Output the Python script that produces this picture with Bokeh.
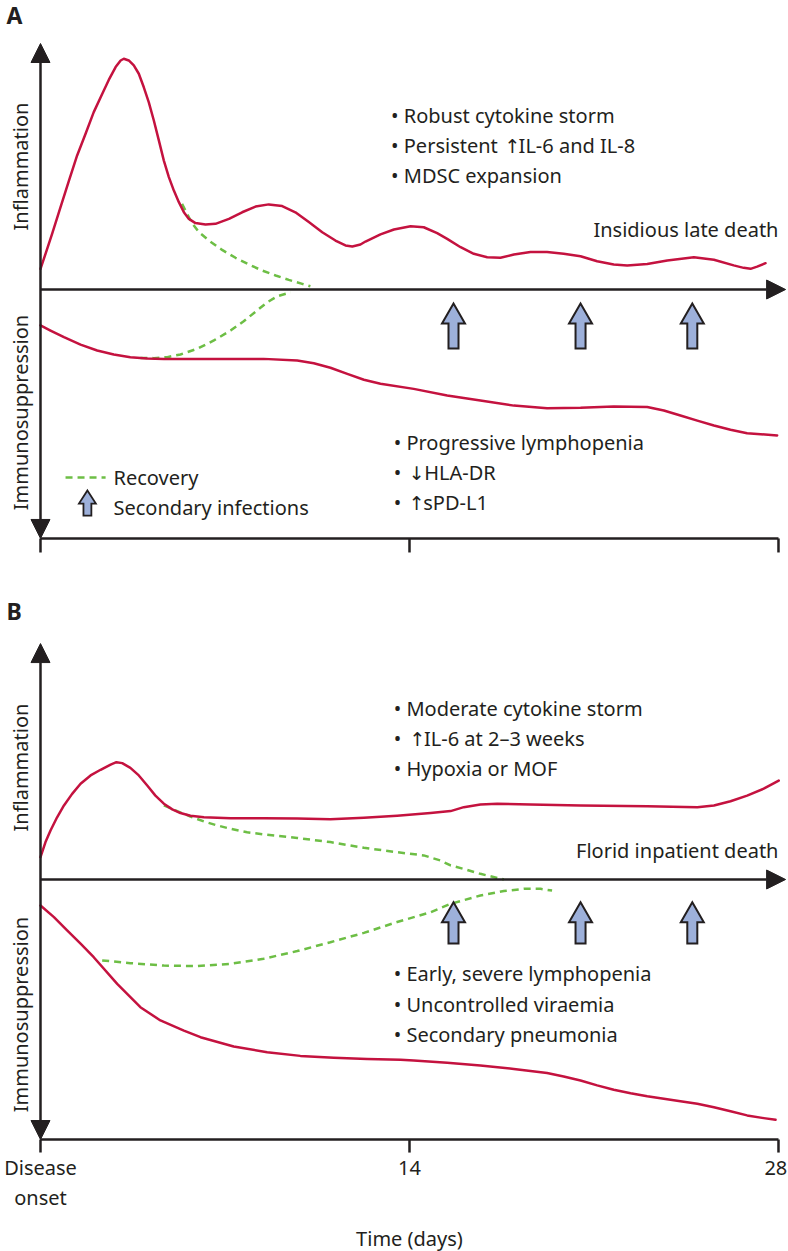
import math
from bokeh.plotting import figure
from bokeh.models import Range1d, Arrow, NormalHead
from bokeh.layouts import column
from bokeh.embed import file_html
from bokeh.resources import INLINE
from bokeh.core.properties import value

RED = "#C4123F"
GREEN = "#6DBE45"
INK = "#231F20"
BLUE = "#9DB0DA"
FONT = "Noto Sans"
ARROW_FONT = "DejaVu Sans"

# ---------------- data (days, relative level; 0 = time axis) ----------------
infection_days = [15.67, 20.49, 24.73]
tick_days = [0, 14, 28]
tick_label_x = [0, 14, 27.9]
tick_labels = ["Disease", "14", "28"]

# Panel A : fatal course with late death
inflA_day = [0, 0.19, 0.44, 0.76, 1.08, 1.39, 1.71, 2.02, 2.34, 2.59, 2.85, 3.04, 3.16, 3.35, 3.54,
             3.73, 3.92, 4.11, 4.30, 4.49, 4.68, 4.87, 5.06, 5.25, 5.44, 5.63, 5.88, 6.26, 6.64,
             7.15, 7.65, 8.16, 8.66, 9.17, 9.67, 10.18, 10.69, 11.19, 11.57, 11.83, 12.14, 12.33,
             12.90, 13.41, 14.04, 14.54, 15.05, 15.43, 15.94, 16.44, 16.95, 17.45, 17.96, 18.59,
             19.22, 19.85, 20.49, 21.12, 21.75, 22.26, 23.02, 23.78, 24.79, 25.55, 26.30, 26.68,
             26.94, 27.19, 27.51]
inflA_lvl = [0.84, 1.45, 2.26, 3.35, 4.43, 5.45, 6.33, 7.21, 7.95, 8.52, 9.04, 9.31, 9.38, 9.31, 9.11,
             8.77, 8.22, 7.61, 6.87, 6.06, 5.24, 4.57, 4.02, 3.55, 3.14, 2.87, 2.70, 2.64, 2.67,
             2.87, 3.14, 3.37, 3.46, 3.39, 3.14, 2.74, 2.33, 1.99, 1.79, 1.75, 1.83, 1.95,
             2.24, 2.44, 2.57, 2.53, 2.29, 2.06, 1.72, 1.45, 1.31, 1.29, 1.42, 1.52,
             1.52, 1.45, 1.35, 1.15, 1.02, 0.98, 1.04, 1.18, 1.31, 1.21, 0.98, 0.88,
             0.84, 0.93, 1.07]
recA_infl_day = [5.37, 5.56, 5.75, 6.01, 6.39, 6.89, 7.40, 7.90, 8.41, 8.92, 9.42, 9.93, 10.24]
recA_infl_lvl = [3.48, 3.08, 2.70, 2.33, 1.99, 1.61, 1.29, 1.02, 0.77, 0.57, 0.39, 0.23, 0.13]
immA_day = [0, 0.38, 0.89, 1.52, 2.15, 2.78, 3.41, 4.05, 4.68, 6.58, 8.47, 9.74, 10.37, 11.00, 11.64,
            12.27, 12.90, 14.16, 15.43, 16.69, 17.96, 19.22, 20.49, 21.75, 23.02, 23.65, 24.28,
            24.92, 25.55, 26.18, 26.81, 27.95]
immA_lvl = [-1.46, -1.67, -1.94, -2.24, -2.48, -2.64, -2.75, -2.80, -2.82, -2.82, -2.82, -2.89, -3.00,
            -3.18, -3.43, -3.67, -3.83, -4.04, -4.31, -4.51, -4.72, -4.83, -4.81, -4.76, -4.78,
            -4.92, -5.12, -5.33, -5.53, -5.70, -5.84, -5.93]
recA_imm_day = [3.79, 4.30, 4.81, 5.31, 5.95, 6.58, 7.21, 7.71, 8.22, 8.60, 8.98, 9.49]
recA_imm_lvl = [-2.78, -2.79, -2.75, -2.64, -2.41, -2.07, -1.67, -1.29, -0.85, -0.52, -0.28, -0.11]

# Panel B : fatal course with florid inpatient death
inflB_day = [0, 0.19, 0.38, 0.63, 0.89, 1.20, 1.52, 1.90, 2.28, 2.66, 2.88, 3.10, 3.41, 3.73, 4.05,
             4.36, 4.68, 5.00, 5.31, 5.69, 6.20, 7.21, 8.47, 9.74, 11.00, 12.27, 13.53, 14.80,
             15.56, 16.06, 16.69, 17.33, 18.59, 20.49, 23.02, 24.92, 25.55, 26.18, 26.81, 27.44,
             28.01]
inflB_lvl = [0.91, 1.52, 1.99, 2.53, 3.01, 3.48, 3.89, 4.23, 4.46, 4.67, 4.77, 4.73, 4.54, 4.23, 3.82,
             3.41, 3.08, 2.85, 2.70, 2.59, 2.53, 2.49, 2.49, 2.48, 2.45, 2.51, 2.59, 2.70,
             2.78, 2.94, 3.05, 3.08, 3.05, 3.01, 2.98, 2.94, 3.01, 3.18, 3.41, 3.69,
             4.02]
recB_infl_day = [4.68, 5.19, 5.69, 6.20, 6.70, 7.21, 7.84, 8.47, 9.74, 11.00, 12.27, 13.53, 14.54,
                 15.18, 15.56, 16.06, 16.69, 17.58]
recB_infl_lvl = [3.01, 2.78, 2.56, 2.36, 2.20, 2.06, 1.92, 1.83, 1.69, 1.52, 1.29, 1.11, 0.98,
                 0.77, 0.57, 0.43, 0.23, 0.0]
immB_day = [0, 0.51, 1.01, 1.52, 2.02, 2.91, 3.79, 4.55, 5.44, 6.07, 7.33, 8.60, 9.86, 11.13, 12.39,
            13.66, 14.16, 15.43, 16.69, 17.96, 19.22, 19.85, 20.49, 21.12, 21.75, 22.39, 23.02,
            24.28, 24.92, 25.55, 26.18, 26.81, 27.44, 27.89]
immB_lvl = [-1.06, -1.53, -2.07, -2.61, -3.16, -4.24, -5.19, -5.73, -6.14, -6.41, -6.79, -7.02, -7.17,
            -7.25, -7.30, -7.33, -7.36, -7.45, -7.56, -7.70, -7.87, -8.01, -8.17, -8.37, -8.55,
            -8.69, -8.81, -9.01, -9.12, -9.26, -9.42, -9.59, -9.70, -9.77]
recB_imm_day = [2.34, 3.41, 4.68, 5.95, 7.21, 8.47, 9.74, 11.00, 12.27, 13.53, 14.80, 15.56, 16.69,
                17.58, 18.34, 18.97, 19.41]
recB_imm_lvl = [-3.29, -3.40, -3.50, -3.52, -3.43, -3.22, -2.91, -2.55, -2.17, -1.73, -1.33, -0.99,
                -0.65, -0.47, -0.38, -0.38, -0.45]

# Annotation lines: (segments) where each segment is (x in days, text, is_arrow_glyph)
notesA_top = [
    [(13.30, "• Robust cytokine storm", False)],
    [(13.30, "• Persistent", False), (17.91, "↑", True), (18.14, "IL-6 and IL-8", False)],
    [(13.30, "• MDSC expansion", False)],
]
notesA_top_y = [7.07, 5.85, 4.63]
notesA_bot = [
    [(13.40, "• Progressive lymphopenia", False)],
    [(13.40, "•", False), (14.27, "↓", True), (14.56, "HLA-DR", False)],
    [(13.40, "•", False), (14.27, "↑", True), (14.52, "sPD-L1", False)],
]
notesA_bot_y = [-6.22, -7.44, -8.66]
notesB_top = [
    [(13.40, "• Moderate cytokine storm", False)],
    [(13.40, "•", False), (14.30, "↑", True), (14.55, "IL-6 at 2–3 weeks", False)],
    [(13.40, "• Hypoxia or MOF", False)],
]
notesB_top_y = [6.95, 5.73, 4.51]
notesB_bot = [
    [(13.40, "• Early, severe lymphopenia", False)],
    [(13.40, "• Uncontrolled viraemia", False)],
    [(13.40, "• Secondary pneumonia", False)],
]
notesB_bot_y = [-3.82, -5.08, -6.30]

X0, X1 = -1.5176, 28.380
FS = "20px"


def make_fig(h, ytop, ybot):
    p = figure(width=788, height=h, x_range=Range1d(X0, X1), y_range=Range1d(ybot, ytop),
               output_backend="svg", toolbar_location=None, min_border=0,
               x_axis_type=None, y_axis_type=None, outline_line_color=None,
               background_fill_color="white", border_fill_color="white")
    p.grid.visible = False
    return p


def txt(p, x, y, s, align="left", size=FS, angle=0.0, bold=False, baseline="middle", font=FONT):
    p.text(x=x, y=y, text=s, text_font=value(font), text_font_size=size,
           text_color=INK, text_align=align, text_baseline=baseline, angle=angle,
           text_font_style="bold" if bold else "normal")


def notes(p, lines, ys):
    for segs, y in zip(lines, ys):
        for x, s, is_arrow in segs:
            if is_arrow:
                txt(p, [x], [y], [s], align="center", font=ARROW_FONT, size="19px")
            else:
                txt(p, [x], [y], [s])


def block_arrows(p, days, ytop, ybot, hw, sw, hh, lw=2):
    xs, ys = [], []
    for d in days:
        xs.append([d, d + hw, d + sw, d + sw, d - sw, d - sw, d - hw])
        ys.append([ytop, ytop - hh, ytop - hh, ybot, ybot, ytop - hh, ytop - hh])
    p.patches(xs, ys, fill_color=BLUE, line_color=INK, line_width=lw, line_join="miter")


def axes(p, top, bottom, tick_bottom):
    p.add_layout(Arrow(x_start=0, y_start=bottom, x_end=0, y_end=top, line_width=2.5, line_color=INK,
                       start=NormalHead(size=19, fill_color=INK, line_color=INK, line_width=1),
                       end=NormalHead(size=19, fill_color=INK, line_color=INK, line_width=1)))
    p.add_layout(Arrow(x_start=0, y_start=0, x_end=28.27, y_end=0, line_width=2.5, line_color=INK,
                       end=NormalHead(size=19, fill_color=INK, line_color=INK, line_width=1)))
    p.segment(x0=[0], y0=[bottom], x1=[28], y1=[bottom], line_color=INK, line_width=2.5)
    p.segment(x0=tick_days, y0=[bottom] * 3, x1=tick_days, y1=[tick_bottom] * 3,
              line_color=INK, line_width=2.5)


def curves(p, rec1, rec2, red1, red2):
    for d, l in (rec1, rec2):
        p.line(d, l, line_color=GREEN, line_width=2.5, line_dash="7 5")
    for d, l in (red1, red2):
        p.line(d, l, line_color=RED, line_width=2.5, line_join="round", line_cap="round")


# ---------------- Panel A ----------------
pA = make_fig(560, 11.748, -11.016)
axes(pA, 10.0, -10.12, -10.69)
curves(pA, (recA_infl_day, recA_infl_lvl), (recA_imm_day, recA_imm_lvl),
       (inflA_day, inflA_lvl), (immA_day, immA_lvl))
block_arrows(pA, infection_days, -0.57, -2.40, 0.436, 0.19, 0.81)

txt(pA, [-1.29], [11.16], ["A"], size="23px", bold=True)
notes(pA, notesA_top, notesA_top_y)
txt(pA, [28.0], [2.44], ["Insidious late death"], align="right")
notes(pA, notesA_bot, notesA_bot_y)
txt(pA, [-0.76], [5.0], ["Inflammation"], align="center", angle=math.pi / 2)
txt(pA, [-0.76], [-5.0], ["Immunosuppression"], align="center", angle=math.pi / 2)
# legend
pA.line([0.95, 2.47], [-7.64, -7.64], line_color=GREEN, line_width=2.5, line_dash="7 5")
block_arrows(pA, [1.78], -8.17, -9.19, 0.32, 0.15, 0.53, lw=1.8)
txt(pA, [2.77], [-7.64], ["Recovery"])
txt(pA, [2.77], [-8.86], ["Secondary infections"])

# ---------------- Panel B ----------------
pB = make_fig(691, 12.967, -15.122)
axes(pB, 9.59, -10.57, -11.10)
curves(pB, (recB_infl_day, recB_infl_lvl), (recB_imm_day, recB_imm_lvl),
       (inflB_day, inflB_lvl), (immB_day, immB_lvl))
block_arrows(pB, infection_days, -0.93, -2.60, 0.436, 0.19, 0.81)

txt(pB, [-1.29], [10.93], ["B"], size="23px", bold=True)
notes(pB, notesB_top, notesB_top_y)
txt(pB, [28.0], [1.18], ["Florid inpatient death"], align="right")
notes(pB, notesB_bot, notesB_bot_y)
txt(pB, [-0.76], [4.55], ["Inflammation"], align="center", angle=math.pi / 2)
txt(pB, [-0.76], [-5.49], ["Immunosuppression"], align="center", angle=math.pi / 2)
txt(pB, tick_label_x, [-11.71] * 3, tick_labels, align="center")
txt(pB, [0], [-12.93], ["onset"], align="center")
txt(pB, [14], [-14.59], ["Time (days)"], align="center")

layout = column(pA, pB, spacing=0)
open("out.html", "w").write(file_html(layout, INLINE))
